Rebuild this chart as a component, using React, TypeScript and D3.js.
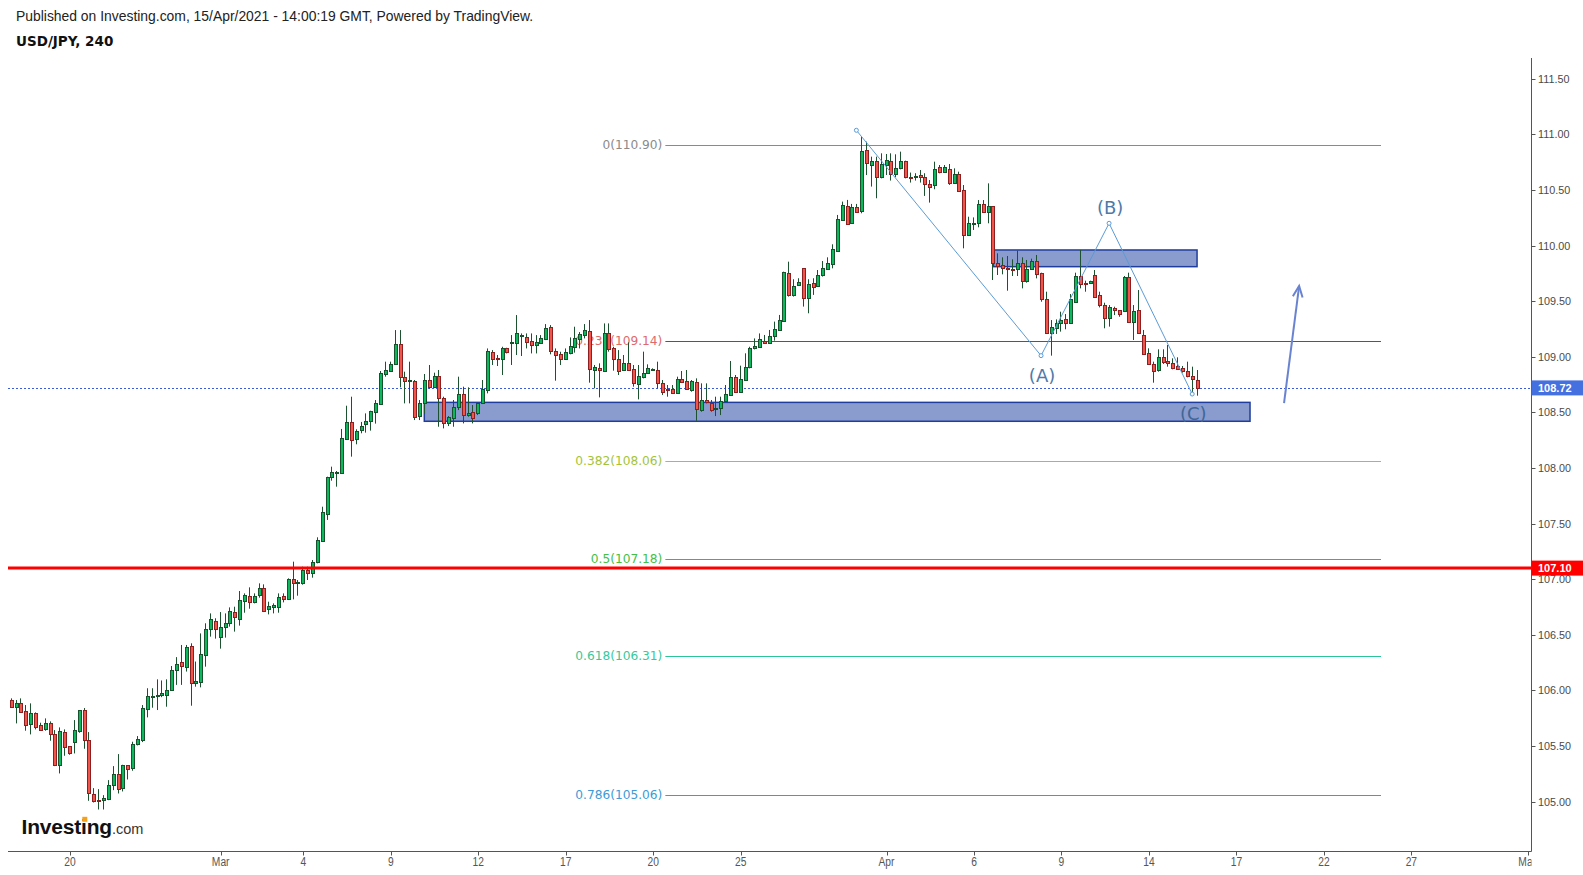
import React from "react";
import * as d3 from "d3";

// ---- OHLC data (4h bars), [open, high, low, close] ----
const segFeb: number[][] = [
  [105.914, 105.929, 105.854, 105.854], [105.854, 105.914, 105.704, 105.884], [105.884, 105.929, 105.8, 105.806],
  [105.812, 105.869, 105.638, 105.686], [105.695, 105.884, 105.605, 105.794], [105.794, 105.803, 105.65, 105.674],
  [105.686, 105.71, 105.638, 105.647], [105.65, 105.749, 105.638, 105.704], [105.704, 105.722, 105.548, 105.605],
  [105.605, 105.644, 105.32, 105.332], [105.332, 105.668, 105.254, 105.635], [105.623, 105.65, 105.413, 105.488],
  [105.5, 105.5, 105.422, 105.44], [105.533, 105.734, 105.434, 105.644], [105.635, 105.824, 105.62, 105.824],
  [105.824, 105.842, 105.476, 105.551], [105.554, 105.626, 105.008, 105.074], [105.068, 105.122, 104.993, 105.008],
  [105.014, 105.113, 104.93, 105.008], [105.011, 105.059, 104.93, 105.029], [105.02, 105.194, 105.014, 105.149],
  [105.146, 105.32, 105.104, 105.245], [105.245, 105.428, 105.074, 105.11], [105.119, 105.332, 105.092, 105.326],
  [105.326, 105.329, 105.2, 105.29], [105.305, 105.539, 105.278, 105.518], [105.515, 105.59, 105.506, 105.563],
  [105.551, 105.869, 105.536, 105.839], [105.836, 106.02, 105.758, 105.95], [105.947, 106.02, 105.845, 105.95],
  [105.95, 106.1, 105.824, 105.96], [105.96, 106.09, 105.94, 105.974], [105.959, 106.1, 105.854, 106.004],
  [106.004, 106.22, 106.0, 106.18], [106.18, 106.3, 106.05, 106.24], [106.253, 106.409, 106.05, 106.223],
  [106.214, 106.409, 106.17, 106.388], [106.4, 106.424, 105.863, 106.064], [106.07, 106.26, 106.034, 106.085],
  [106.08, 106.513, 106.028, 106.328],
];
const segMarA: number[][] = [
  [106.322, 106.604, 106.214, 106.55], [106.55, 106.693, 106.484, 106.64], [106.622, 106.649, 106.466, 106.556],
  [106.478, 106.705, 106.376, 106.568], [106.568, 106.693, 106.475, 106.604], [106.61, 106.747, 106.574, 106.711],
  [106.705, 106.753, 106.529, 106.657], [106.645, 106.894, 106.583, 106.813], [106.807, 106.873, 106.699, 106.855],
  [106.846, 106.927, 106.735, 106.792], [106.792, 106.873, 106.783, 106.846], [106.855, 106.963, 106.834, 106.918],
  [106.918, 106.954, 106.705, 106.711], [106.735, 106.798, 106.684, 106.759], [106.753, 106.783, 106.693, 106.765],
  [106.753, 106.873, 106.699, 106.837], [106.846, 106.873, 106.792, 106.819], [106.819, 107.008, 106.813, 107.002],
  [107.002, 107.158, 106.819, 106.969], [106.972, 106.993, 106.852, 106.978], [106.963, 107.113, 106.951, 107.083],
  [107.083, 107.113, 106.993, 107.053], [107.053, 107.173, 107.014, 107.155], [107.155, 107.377, 107.143, 107.353],
  [107.347, 107.652, 107.347, 107.602], [107.59, 107.922, 107.533, 107.919], [107.916, 108.012, 107.886, 107.961],
  [107.961, 107.973, 107.832, 107.967], [107.958, 108.351, 107.958, 108.27], [108.264, 108.56, 108.264, 108.414],
  [108.414, 108.641, 108.102, 108.255], [108.264, 108.348, 108.213, 108.336], [108.342, 108.414, 108.312, 108.378],
  [108.396, 108.491, 108.318, 108.423], [108.426, 108.515, 108.336, 108.512], [108.506, 108.611, 108.399, 108.584],
  [108.578, 108.872, 108.566, 108.857], [108.845, 108.956, 108.821, 108.881], [108.875, 108.956, 108.866, 108.935],
  [108.932, 109.24, 108.926, 109.114],
];
const segMarB: number[][] = [
  [109.114, 109.24, 108.725, 108.821], [108.815, 108.866, 108.581, 108.779], [108.78, 108.956, 108.581, 108.79],
  [108.779, 108.791, 108.431, 108.461], [108.467, 108.611, 108.431, 108.581], [108.581, 108.845, 108.491, 108.791],
  [108.791, 108.926, 108.716, 108.725], [108.725, 108.857, 108.725, 108.827], [108.827, 108.881, 108.371, 108.626],
  [108.626, 108.641, 108.356, 108.401], [108.401, 108.467, 108.377, 108.455], [108.446, 108.611, 108.371, 108.545],
  [108.545, 108.821, 108.521, 108.662], [108.662, 108.731, 108.401, 108.476], [108.473, 108.725, 108.461, 108.491],
  [108.503, 108.566, 108.401, 108.446], [108.497, 108.587, 108.476, 108.581], [108.581, 108.791, 108.575, 108.707],
  [108.701, 109.075, 108.671, 109.052], [109.04, 109.06, 108.926, 108.983], [108.986, 109.016, 108.917, 108.977],
  [108.983, 109.09, 108.836, 109.075], [109.075, 109.081, 109.03, 109.046], [109.12, 109.195, 108.926, 109.132],
  [109.126, 109.375, 109.016, 109.21], [109.192, 109.21, 109.007, 109.198], [109.174, 109.21, 109.075, 109.135],
  [109.138, 109.21, 109.03, 109.108], [109.108, 109.195, 109.03, 109.132], [109.126, 109.195, 109.12, 109.165],
  [109.159, 109.294, 109.15, 109.255], [109.264, 109.285, 109.022, 109.054], [109.054, 109.075, 108.785, 109.015],
  [109.024, 109.045, 108.926, 108.983], [108.983, 109.075, 108.971, 109.043], [109.031, 109.174, 109.022, 109.096],
  [109.09, 109.27, 109.037, 109.171], [109.156, 109.222, 109.075, 109.204], [109.198, 109.294, 109.165, 109.24],
  [109.231, 109.33, 108.767, 108.887],
];
const segMarC: number[][] = [
  [108.881, 108.926, 108.716, 108.908], [108.902, 108.941, 108.635, 108.881], [108.875, 109.3, 108.875, 109.21],
  [109.21, 109.3, 109.046, 109.066], [109.075, 109.09, 108.875, 108.977], [108.977, 109.06, 108.836, 108.875],
  [108.881, 109.016, 108.875, 108.941], [108.941, 109.129, 108.875, 108.881], [108.887, 108.926, 108.731, 108.761],
  [108.755, 108.926, 108.617, 108.827], [108.821, 109.046, 108.806, 108.851], [108.857, 108.932, 108.851, 108.896],
  [108.884, 108.896, 108.881, 108.887], [108.881, 108.956, 108.716, 108.767], [108.767, 108.791, 108.656, 108.686],
  [108.707, 108.746, 108.641, 108.701], [108.713, 108.746, 108.665, 108.671], [108.677, 108.821, 108.671, 108.8],
  [108.797, 108.872, 108.776, 108.776], [108.779, 108.881, 108.701, 108.707], [108.701, 108.791, 108.686, 108.779],
  [108.773, 108.806, 108.425, 108.527], [108.521, 108.761, 108.506, 108.611], [108.611, 108.761, 108.581, 108.59],
  [108.584, 108.611, 108.506, 108.521], [108.527, 108.641, 108.467, 108.539], [108.539, 108.641, 108.476, 108.602],
  [108.605, 108.746, 108.596, 108.662], [108.656, 108.962, 108.65, 108.815], [108.821, 108.836, 108.677, 108.68],
  [108.686, 108.92, 108.683, 108.797], [108.791, 109.031, 108.791, 108.905], [108.905, 109.09, 108.896, 109.075],
  [109.075, 109.165, 109.066, 109.096], [109.09, 109.21, 109.085, 109.156], [109.145, 109.196, 109.115, 109.121],
  [109.121, 109.241, 109.115, 109.187], [109.187, 109.316, 109.145, 109.247], [109.241, 109.376, 109.235, 109.331],
  [109.325, 109.765, 109.325, 109.762],
];
const segMarD: number[][] = [
  [109.75, 109.855, 109.541, 109.559], [109.559, 109.697, 109.541, 109.637], [109.643, 109.706, 109.64, 109.67],
  [109.795, 109.795, 109.451, 109.532], [109.532, 109.697, 109.391, 109.655], [109.661, 109.706, 109.556, 109.631],
  [109.64, 109.78, 109.631, 109.736], [109.736, 109.861, 109.721, 109.801], [109.792, 109.894, 109.78, 109.84],
  [109.837, 110.011, 109.795, 109.966], [109.954, 110.275, 109.954, 110.236], [110.23, 110.395, 110.23, 110.365],
  [110.356, 110.41, 110.185, 110.191], [110.2, 110.374, 110.194, 110.35], [110.344, 110.374, 110.296, 110.305],
  [110.314, 110.979, 110.29, 110.85], [110.859, 110.934, 110.634, 110.739], [110.724, 110.799, 110.53, 110.757],
  [110.757, 110.799, 110.425, 110.613], [110.613, 110.829, 110.604, 110.733], [110.724, 110.823, 110.634, 110.769],
  [110.757, 110.829, 110.584, 110.64], [110.64, 110.82, 110.614, 110.694], [110.694, 110.844, 110.685, 110.757],
  [110.757, 110.763, 110.604, 110.613], [110.619, 110.656, 110.566, 110.613], [110.619, 110.65, 110.584, 110.625],
  [110.634, 110.679, 110.566, 110.613], [110.613, 110.65, 110.446, 110.551], [110.554, 110.589, 110.386, 110.53],
  [110.545, 110.754, 110.506, 110.691], [110.703, 110.724, 110.649, 110.664], [110.664, 110.724, 110.656, 110.709],
  [110.688, 110.733, 110.545, 110.56], [110.56, 110.694, 110.554, 110.644], [110.644, 110.664, 110.485, 110.494],
  [110.499, 110.544, 109.975, 110.095], [110.095, 110.259, 110.089, 110.2], [110.194, 110.253, 110.14, 110.206],
  [110.2, 110.409, 110.164, 110.373],
];
const segApr: number[][] = [
  [110.373, 110.409, 110.295, 110.304], [110.304, 110.559, 110.2, 110.355], [110.355, 110.355, 109.69, 109.84],
  [109.84, 109.93, 109.735, 109.816], [109.825, 109.894, 109.741, 109.795], [109.795, 109.906, 109.594, 109.789],
  [109.792, 109.876, 109.726, 109.786], [109.792, 109.954, 109.726, 109.84], [109.84, 109.894, 109.615, 109.681],
  [109.681, 109.87, 109.666, 109.792], [109.792, 109.882, 109.78, 109.864], [109.864, 109.915, 109.705, 109.744],
  [109.75, 109.756, 109.495, 109.516], [109.516, 109.585, 109.211, 109.217], [109.217, 109.33, 109.01, 109.265],
  [109.256, 109.336, 109.205, 109.301], [109.301, 109.405, 109.226, 109.33], [109.339, 109.384, 109.247, 109.301],
  [109.301, 109.564, 109.295, 109.516], [109.495, 109.756, 109.495, 109.726], [109.726, 109.96, 109.615, 109.651],
  [109.66, 109.684, 109.585, 109.654], [109.66, 109.684, 109.654, 109.678], [109.732, 109.78, 109.534, 109.54],
  [109.552, 109.585, 109.444, 109.465], [109.465, 109.486, 109.256, 109.345], [109.345, 109.465, 109.271, 109.45],
  [109.441, 109.45, 109.375, 109.42], [109.42, 109.42, 109.36, 109.381], [109.414, 109.726, 109.405, 109.72],
  [109.72, 109.756, 109.306, 109.315], [109.315, 109.465, 109.151, 109.411], [109.42, 109.6, 109.205, 109.211],
  [109.196, 109.241, 109.016, 109.025], [109.037, 109.076, 108.926, 108.935], [108.932, 108.956, 108.767, 108.875],
  [108.881, 109.067, 108.866, 108.995], [108.995, 109.067, 108.935, 108.956], [108.962, 109.106, 108.911, 108.941],
  [108.941, 108.986, 108.887, 108.896], [108.917, 108.995, 108.881, 108.89], [108.899, 108.917, 108.857, 108.869],
  [108.872, 108.956, 108.815, 108.83], [108.827, 108.911, 108.665, 108.797], [108.791, 108.881, 108.65, 108.72],
];
const candles = [...segFeb, ...segMarA, ...segMarB, ...segMarC, ...segMarD, ...segApr];

// ---- axes ----
const yTickValues = [105, 105.5, 106, 106.5, 107, 107.5, 108, 108.5, 109, 109.5, 110, 110.5, 111, 111.5];
const xTickIndex = [12, 43, 60, 78, 96, 114, 132, 150, 180, 198, 216, 234, 252, 270, 288, 312];
const xTickLabels = ["20", "Mar", "4", "9", "12", "17", "20", "25", "Apr", "6", "9", "14", "17", "22", "27", "May"];

// ---- drawings ----
const fibRatios = ["0", "0.236", "0.382", "0.5", "0.618", "0.786"];
const fibPrices = [110.9, 109.14, 108.06, 107.18, 106.31, 105.06];
const fibLineColors = ["#8a8a8a", "#c62828", "#a3c43a", "#4caf50", "#2ec49a", "#3d9ad6"];
const fibTextColors = ["#8a8a8a", "#e06a6a", "#a3c43a", "#45c045", "#38c89c", "#3d9ad6"];
const fibSpan = [134.5, 281.75];

const waveIndex = [173.8, 211.8, 225.8, 242.9];
const wavePrice = [111.036, 109.01, 110.2, 108.665];
const waveLabels = ["", "(A)", "(B)", "(C)"];
const waveLabelDy = [0, 19.5, -15.5, 19];

const zoneIndex = [[84.9, 254.8], [202.0, 243.9]];
const zonePrice = [[108.59, 108.42], [109.96, 109.81]];

const arrowIndex = [261.8, 264.9];
const arrowPrice = [108.584, 109.636];

const lastPrice = 108.72;
const keyLevel = 107.1;

const W = 1583, H = 875;
const PL = 8, PR = 1531.5, PT = 58, PB = 851.5;

export default function App() {
  const x = d3.scaleLinear().domain([0, 100]).range([11.7, 11.7 + 486]);
  const y = d3.scaleLinear().domain([105, 111]).range([801.7, 134.3]);

  const greenFill = "#0bb85e", greenLine = "#17522c";
  const redFill = "#f0544a", redLine = "#8c1f1f";
  const wick = "#1d5231";

  const wavePts = waveIndex.map((i, k) => [x(i), y(wavePrice[k])] as [number, number]);
  const waveLine = d3.line()(wavePts) || "";

  const ax0 = x(arrowIndex[0]), ay0 = y(arrowPrice[0]);
  const ax1 = x(arrowIndex[1]), ay1 = y(arrowPrice[1]);
  const ang = Math.atan2(ay1 - ay0, ax1 - ax0);
  const headLen = 12, headAng = 0.42;
  const h1 = [ax1 - headLen * Math.cos(ang - headAng), ay1 - headLen * Math.sin(ang - headAng)];
  const h2 = [ax1 - headLen * Math.cos(ang + headAng), ay1 - headLen * Math.sin(ang + headAng)];

  const fx0 = x(fibSpan[0]), fx1 = x(fibSpan[1]);

  return (
    <svg width={W} height={H} style={{ position: "fixed", left: 0, top: 0, display: "block", background: "#fff" }}
      xmlns="http://www.w3.org/2000/svg">
      <defs>
        <clipPath id="plot"><rect x={PL} y={PT} width={PR - PL} height={PB - PT} /></clipPath>
        <clipPath id="xlab"><rect x={0} y={PB} width={PR} height={H - PB} /></clipPath>
      </defs>
      <rect x={0} y={0} width={W} height={H} fill="#ffffff" />

      {/* header */}
      <text x={16} y={20.5} fontFamily="'Liberation Sans', Arial, sans-serif" fontSize={13.9} fill="#222">
        Published on Investing.com, 15/Apr/2021 - 14:00:19 GMT, Powered by TradingView.
      </text>
      <text x={16} y={46} fontFamily="'DejaVu Sans', Verdana, sans-serif" fontSize={13.5} fontWeight="bold" fill="#111">
        USD/JPY, 240
      </text>

      <g clipPath="url(#plot)">
        {/* zones */}
        {zoneIndex.map((z, k) => (
          <rect key={"z" + k} x={x(z[0])} y={y(zonePrice[k][0])} width={x(z[1]) - x(z[0])}
            height={y(zonePrice[k][1]) - y(zonePrice[k][0])} fill="#8a9bce" stroke="#1f3d9c" strokeWidth={1.5} />
        ))}

        {/* fib levels */}
        {fibPrices.map((p, k) => (
          <g key={"f" + k}>
            <line x1={fx0} x2={fx1} y1={Math.round(y(p)) + 0.5} y2={Math.round(y(p)) + 0.5}
              stroke={fibLineColors[k]} strokeWidth={1} />
            <text x={fx0 - 3} y={y(p)} textAnchor="end" dominantBaseline="central"
              fontFamily="'DejaVu Sans', Verdana, sans-serif" fontSize={12.2} fill={fibTextColors[k]}>
              {fibRatios[k]}({p.toFixed(2)})
            </text>
          </g>
        ))}

        {/* last price dotted line */}
        <line x1={PL} x2={PR} y1={Math.round(y(lastPrice)) + 0.5} y2={Math.round(y(lastPrice)) + 0.5}
          stroke="#3b5bdb" strokeWidth={1} strokeDasharray="2 2" />

        {/* candles */}
        {candles.map((c, i) => {
          const [o, h, l, cl] = c;
          const up = cl >= o;
          const rc = Math.round(x(i));
          const yTop = Math.round(y(Math.max(o, cl)));
          const yBot = Math.round(y(Math.min(o, cl)));
          const bh = Math.max(1, yBot - yTop);
          return (
            <g key={"c" + i}>
              <line x1={rc - 0.5} x2={rc - 0.5} y1={y(h)} y2={y(l)} stroke={wick} strokeWidth={1} />
              <rect x={rc - 1.5} y={yTop + 0.5} width={3} height={bh}
                fill={up ? greenFill : redFill} stroke={up ? greenLine : redLine} strokeWidth={1} />
            </g>
          );
        })}

        {/* key level */}
        <line x1={PL} x2={PR} y1={y(keyLevel)} y2={y(keyLevel)} stroke="#ff0000" strokeWidth={3} />

        {/* wave */}
        <path d={waveLine} fill="none" stroke="#5b9bd5" strokeWidth={1} />
        {wavePts.map((pt, k) => (
          <circle key={"wc" + k} cx={pt[0]} cy={pt[1]} r={2} fill="#fff" stroke="#5b9bd5" strokeWidth={1} />
        ))}
        {wavePts.map((pt, k) => waveLabels[k] ? (
          <text key={"wl" + k} x={pt[0] + 1} y={pt[1] + waveLabelDy[k]} textAnchor="middle" dominantBaseline="central"
            fontFamily="'DejaVu Sans', Verdana, sans-serif" fontSize={18} fill={k === 3 ? "#3f6795" : "#4f7aa8"}>{waveLabels[k]}</text>
        ) : null)}

        {/* arrow */}
        <line x1={ax0} y1={ay0} x2={ax1} y2={ay1} stroke="#6a83d0" strokeWidth={2} />
        <polyline points={`${h1[0]},${h1[1]} ${ax1},${ay1} ${h2[0]},${h2[1]}`} fill="none" stroke="#6a83d0" strokeWidth={2} />
      </g>

      {/* axes */}
      <line x1={PR} x2={PR} y1={PT} y2={PB} stroke="#555" strokeWidth={1} />
      <line x1={PL} x2={PR} y1={PB} y2={PB} stroke="#555" strokeWidth={1} />
      {yTickValues.map((v) => (
        <g key={"yt" + v}>
          <line x1={PR} x2={PR + 4} y1={Math.round(y(v)) + 0.5} y2={Math.round(y(v)) + 0.5} stroke="#555" />
          <text x={1538} y={y(v)} dominantBaseline="central" fontFamily="'Liberation Sans', Arial, sans-serif"
            fontSize={10.8} fill="#4a4a4a">{v.toFixed(2)}</text>
        </g>
      ))}
      <g clipPath="url(#xlab)">
        {xTickIndex.map((i, k) => (
          <g key={"xt" + k}>
            <line x1={Math.round(x(i)) + 0.5} x2={Math.round(x(i)) + 0.5} y1={PB} y2={PB + 4} stroke="#555" />
            <text transform={`translate(${x(i)},${866}) scale(0.82,1)`} textAnchor="middle"
              fontFamily="'Liberation Sans', Arial, sans-serif" fontSize={12.5} fill="#555">{xTickLabels[k]}</text>
          </g>
        ))}
      </g>

      {/* price labels */}
      <rect x={PR} y={y(lastPrice) - 7.5} width={W - PR} height={15} fill="#4470e0" />
      <text x={1538} y={y(lastPrice)} dominantBaseline="central" fontFamily="'Liberation Sans', Arial, sans-serif"
        fontSize={11} fontWeight="bold" fill="#fff">{lastPrice.toFixed(2)}</text>
      <rect x={PR} y={y(keyLevel) - 7.5} width={W - PR} height={15} fill="#ff0000" />
      <text x={1538} y={y(keyLevel)} dominantBaseline="central" fontFamily="'Liberation Sans', Arial, sans-serif"
        fontSize={11} fontWeight="bold" fill="#fff">{keyLevel.toFixed(2)}</text>

      {/* logo */}
      <text x={21.5} y={834} fontFamily="'Liberation Sans', Arial, sans-serif" fontSize={21} fontWeight="bold"
        fill="#111" letterSpacing={-0.2}>Investing</text>
      <rect x={82.3} y={816.8} width={5} height={5} fill="#f5a01a" />
      <text x={112} y={834} fontFamily="'Liberation Sans', Arial, sans-serif" fontSize={14.5} fill="#333">.com</text>
    </svg>
  );
}
